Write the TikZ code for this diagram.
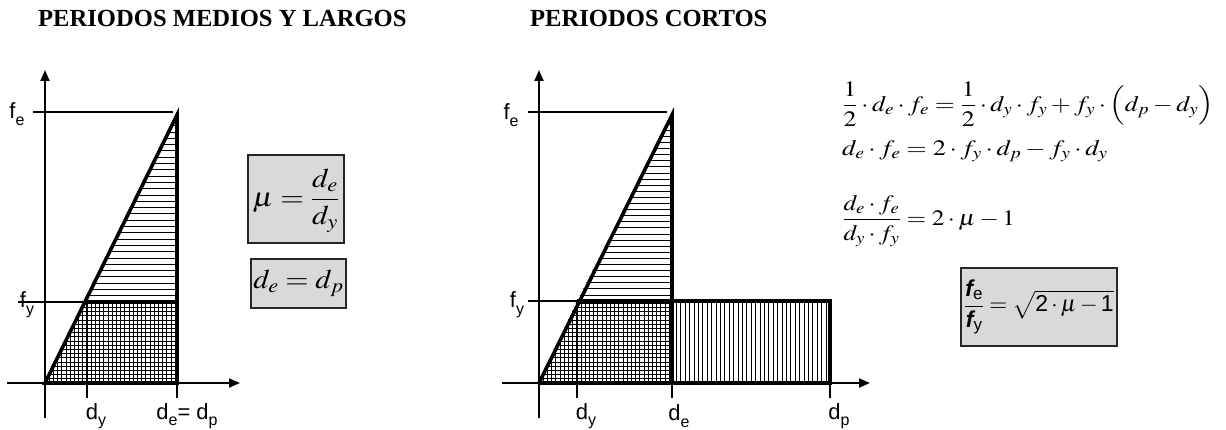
\documentclass[tikz,border=0pt]{standalone}
\usepackage{fix-cm}
\usepackage{amsmath}
\usepackage{graphicx}
\usepackage{mathptmx}
\usepackage[no-math]{fontspec}
\setmainfont{Liberation Serif}
\newfontfamily\arial{Liberation Sans}
\usetikzlibrary{arrows.meta}
\newcommand\sbs[1]{\raisebox{-0.3em}{\fontsize{16}{17}\selectfont #1}}
\newcommand\stretchx[2]{\scalebox{#1}[1]{#2}}
\tikzset{
  thickln/.style={line width=3.6pt},
  axisln/.style={line width=1.8pt,-{Triangle[length=11pt,width=9pt]}},
  thinln/.style={line width=1.2pt},
  hatchln/.style={line width=0.7pt},
  eqbox/.style={draw=black!85,line width=1.3pt,fill=black!15},
  lab/.style={font=\arial\fontsize{22}{24}\selectfont,inner sep=0pt},
  ttl/.style={font=\bfseries\fontsize{24.6}{28}\selectfont,inner sep=0pt,anchor=base west},
  eq/.style={font=\fontsize{22}{26}\selectfont,inner sep=0pt,anchor=west},
  boxmath/.style={font=\fontsize{27}{30}\selectfont,inner sep=0pt}
}
\begin{document}
\begin{tikzpicture}[x=1pt,y=-1pt]
\useasboundingbox (0,0) rectangle (1226,430);
% titles
\node[ttl] (t1) at (38,27) {PERIODOS MEDIOS Y LARGOS};
\node[ttl] (t2) at (530,27) {PERIODOS CORTOS};
% ---------- left chart ----------
\begin{scope}
\clip (87,302) -- (177,115) -- (177,302) -- cycle;
\foreach \i in {0,...,31} \draw[hatchln] (40,302-\i*6.3) -- (180,302-\i*6.3);
\end{scope}
\begin{scope}
\clip (45,383) -- (87,302) -- (177,302) -- (177,383) -- cycle;
\foreach \i in {0,...,32} \draw[hatchln] (45+\i*4.2,298) -- (45+\i*4.2,386);
\foreach \i in {0,...,20} \draw[hatchln] (40,383-\i*4.2) -- (180,383-\i*4.2);
\end{scope}
\coordinate (lo) at (45,383);
\coordinate (lapex) at (177,115);
\coordinate (lfy) at (87,302);
\coordinate (lde) at (177,383);
\draw[thinln] (33,112) -- (173,112);
\draw[thinln] (18,302) -- (lfy);
\draw[thinln] (lfy) -- (87,398);
\draw[thinln] (lde) -- (177,398);
\draw[axisln] (45,418) -- (45,70);
\draw[axisln] (7,383) -- (240,383);
\draw[thickln] (lo) -- (lapex) -- (lde) -- cycle;
\draw[thickln] (lfy) -- (177,302);
\node[lab] (lfe) at (17,114) {f\sbs{e}};
\node[lab] (lfyl) at (27,305) {f\sbs{y}};
\node[lab] (ldy) at (96,416) {d\sbs{y}};
\node[lab] (ldedp) at (187,416) {d\sbs{e}= d\sbs{p}};
\draw[eqbox] (248,155) rectangle (344,243);
\node[boxmath] (mu) at (296,201) {\stretchx{1.13}{$\mu=\dfrac{d_e}{d_y}$}};
\draw[eqbox] (251,259) rectangle (346,308);
\node[boxmath] (dedp) at (298.5,283.5) {\stretchx{1.11}{$d_e=d_p$}};
% ---------- right chart ----------
\begin{scope}
\clip (577,301) -- (672,115) -- (672,301) -- cycle;
\foreach \i in {0,...,31} \draw[hatchln] (530,301-\i*6.1) -- (680,301-\i*6.1);
\end{scope}
\begin{scope}
\clip (539,383) -- (577,301) -- (672,301) -- (672,383) -- cycle;
\foreach \i in {0,...,32} \draw[hatchln] (539+\i*4.2,298) -- (539+\i*4.2,386);
\foreach \i in {0,...,20} \draw[hatchln] (530,383-\i*4.2) -- (680,383-\i*4.2);
\end{scope}
\begin{scope}
\clip (672,301) rectangle (830,383);
\foreach \i in {0,...,36} \draw[hatchln] (672+\i*4.4,298) -- (672+\i*4.4,386);
\end{scope}
\coordinate (ro) at (539,383);
\coordinate (rapex) at (672,115);
\coordinate (rfy) at (577,301);
\coordinate (rde) at (672,383);
\coordinate (rdp) at (830,383);
\draw[thinln] (528,112) -- (667,112);
\draw[thinln] (528,301) -- (rfy);
\draw[thinln] (rfy) -- (577,398);
\draw[thinln] (rde) -- (672,398);
\draw[thinln] (rdp) -- (830,398);
\draw[axisln] (539,418) -- (539,70);
\draw[axisln] (502,383) -- (870,383);
\draw[thickln] (ro) -- (rapex) -- (rde);
\draw[thickln] (rfy) -- (830,301) -- (rdp) -- (ro);
\node[lab] (rfe) at (511,115) {f\sbs{e}};
\node[lab] (rfyl) at (517,305) {f\sbs{y}};
\node[lab] (rdy) at (586,416) {d\sbs{y}};
\node[lab] (rdel) at (679,416) {d\sbs{e}};
\node[lab] (rdpl) at (839,416) {d\sbs{p}};
% equations
\node[eq] (e1) at (842,104) {\stretchx{1.17}{$\dfrac{1}{2}\cdot d_e\cdot f_e=\dfrac{1}{2}\cdot d_y\cdot f_y+f_y\cdot\Bigl(d_p-d_y\Bigr)$}};
\node[eq] (e2) at (842,151) {\stretchx{1.2}{$d_e\cdot f_e=2\cdot f_y\cdot d_p-f_y\cdot d_y$}};
\node[eq] (e3) at (842,221) {\stretchx{1.15}{$\dfrac{d_e\cdot f_e}{d_y\cdot f_y}=2\cdot\mu-1$}};
\draw[eqbox,line width=1.6pt] (961,268) rectangle (1117,346);
\node[font=\arial\fontsize{23}{26}\selectfont,inner sep=0pt,anchor=west] (res) at (964,307)
 {$\dfrac{\textit{\textbf{f}}_{\text{e}}}{\textit{\textbf{f}}_{\text{y}}}=\sqrt{\text{2}\cdot\mu-\text{1}}$};
\end{tikzpicture}
\end{document}
